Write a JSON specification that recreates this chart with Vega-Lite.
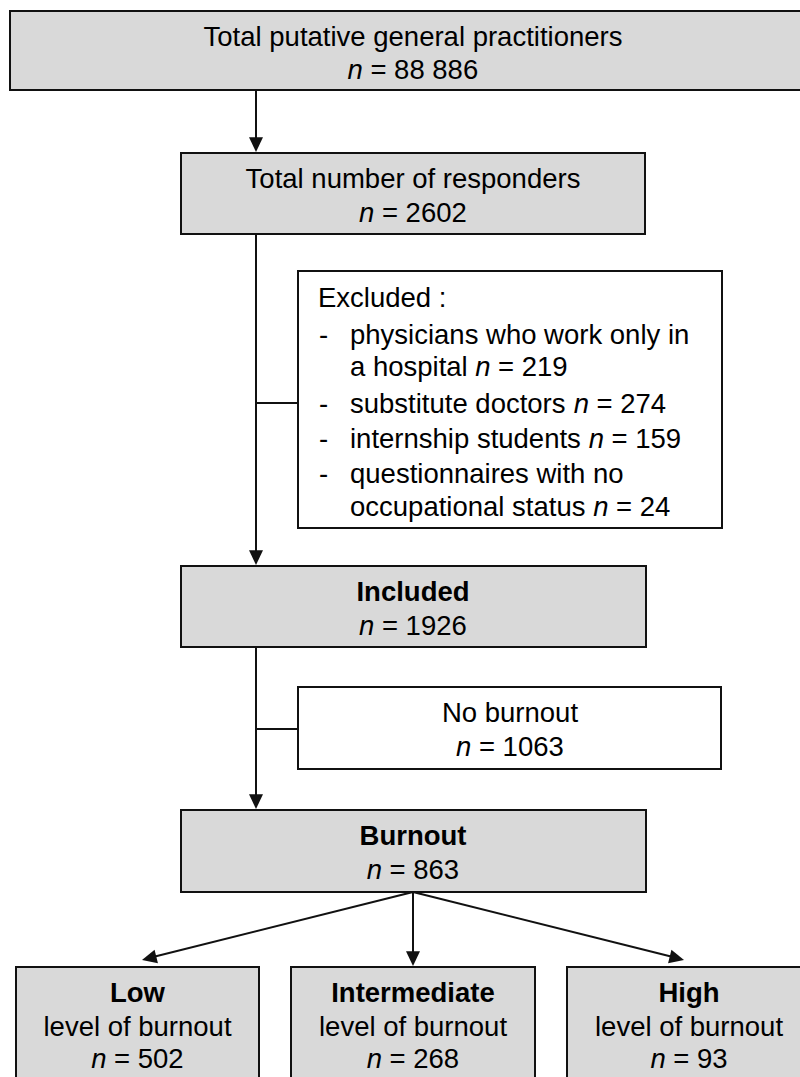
{
  "$schema": "https://vega.github.io/schema/vega-lite/v6.json",
  "width": 800,
  "height": 1077,
  "padding": 0,
  "autosize": {"type": "none"},
  "background": "white",
  "config": {"view": {"stroke": null}, "text": {"font": "Liberation Sans", "fontSize": 27.5, "color": "#000"}},
  "datasets": {
    "boxes": [
      {"box": "total", "kind": "main", "x": 10, "x2": 806, "y": 11, "y2": 90},
      {"box": "responders", "kind": "main", "x": 181, "x2": 645, "y": 153, "y2": 234},
      {"box": "excluded", "kind": "side", "x": 298, "x2": 722, "y": 271, "y2": 528},
      {"box": "included", "kind": "main", "x": 181, "x2": 646, "y": 566, "y2": 647},
      {"box": "noburnout", "kind": "side", "x": 298, "x2": 721, "y": 687, "y2": 769},
      {"box": "burnout", "kind": "main", "x": 181, "x2": 646, "y": 810, "y2": 892},
      {"box": "low", "kind": "main", "x": 16, "x2": 259, "y": 967, "y2": 1090},
      {"box": "intermediate", "kind": "main", "x": 291, "x2": 535, "y": 967, "y2": 1090},
      {"box": "high", "kind": "main", "x": 567, "x2": 810, "y": 967, "y2": 1090}
    ],
    "links": [
      {"x": 256, "y": 90, "x2": 256, "y2": 146},
      {"x": 256, "y": 234, "x2": 256, "y2": 558},
      {"x": 256, "y": 403, "x2": 298, "y2": 403},
      {"x": 256, "y": 647, "x2": 256, "y2": 802},
      {"x": 256, "y": 729, "x2": 298, "y2": 729},
      {"x": 413, "y": 892, "x2": 149, "y2": 958},
      {"x": 413, "y": 892, "x2": 413, "y2": 958},
      {"x": 413, "y": 892, "x2": 677, "y2": 958}
    ],
    "heads": [
      {"x": 256, "y": 152, "angle": 0},
      {"x": 256, "y": 565, "angle": 0},
      {"x": 256, "y": 809, "angle": 0},
      {"x": 142, "y": 960, "angle": 76},
      {"x": 413, "y": 966, "angle": 0},
      {"x": 684, "y": 960, "angle": -76}
    ],
    "labels": [
      {"role": "title", "x": 413, "y": 46, "text": "Total putative general practitioners"},
      {"role": "title", "x": 413, "y": 188, "text": "Total number of responders"},
      {"role": "title", "x": 510, "y": 722, "text": "No burnout"},
      {"role": "title", "x": 137.5, "y": 1036, "text": "level of burnout"},
      {"role": "title", "x": 413, "y": 1036, "text": "level of burnout"},
      {"role": "title", "x": 689, "y": 1036, "text": "level of burnout"},
      {"role": "head", "x": 413, "y": 601, "text": "Included"},
      {"role": "head", "x": 413, "y": 845, "text": "Burnout"},
      {"role": "head", "x": 137.5, "y": 1002, "text": "Low"},
      {"role": "head", "x": 413, "y": 1002, "text": "Intermediate"},
      {"role": "head", "x": 689, "y": 1002, "text": "High"},
      {"role": "list", "x": 318, "y": 307, "text": "Excluded :"},
      {"role": "list", "x": 319, "y": 344, "text": "-"},
      {"role": "list", "x": 319, "y": 413, "text": "-"},
      {"role": "list", "x": 319, "y": 448, "text": "-"},
      {"role": "list", "x": 319, "y": 483, "text": "-"},
      {"role": "list", "x": 350, "y": 344, "text": "physicians who work only in"},
      {"role": "list", "x": 350, "y": 376, "text": "a hospital"},
      {"role": "list", "x": 350, "y": 413, "text": "substitute doctors"},
      {"role": "list", "x": 350, "y": 448, "text": "internship students"},
      {"role": "list", "x": 350, "y": 483, "text": "questionnaires with no"},
      {"role": "list", "x": 350, "y": 516, "text": "occupational status"}
    ],
    "counts": [
      {"x": 362.9, "y": 79, "text": "= 88 886"},
      {"x": 374.4, "y": 222, "text": "= 2602"},
      {"x": 374.4, "y": 635, "text": "= 1926"},
      {"x": 471.4, "y": 756, "text": "= 1063"},
      {"x": 382, "y": 879, "text": "= 863"},
      {"x": 106.5, "y": 1068, "text": "= 502"},
      {"x": 382, "y": 1068, "text": "= 268"},
      {"x": 665.7, "y": 1068, "text": "= 93"},
      {"x": 490.5, "y": 376, "text": "= 219"},
      {"x": 589, "y": 413, "text": "= 274"},
      {"x": 604, "y": 448, "text": "= 159"},
      {"x": 608.5, "y": 516, "text": "= 24"}
    ]
  },
  "layer": [
    {
      "data": {"name": "boxes"},
      "mark": {"type": "rect", "stroke": "#111", "strokeWidth": 2},
      "encoding": {
        "x": {"field": "x", "type": "quantitative", "axis": null, "scale": {"domain": [0, 800], "nice": false, "zero": false}},
        "x2": {"field": "x2"},
        "y": {"field": "y", "type": "quantitative", "axis": null, "scale": {"domain": [0, 1077], "nice": false, "zero": false, "reverse": true}},
        "y2": {"field": "y2"},
        "fill": {"field": "kind", "type": "nominal", "legend": null, "scale": {"domain": ["main", "side"], "range": ["#d9d9d9", "#ffffff"]}}
      }
    },
    {
      "data": {"name": "links"},
      "mark": {"type": "rule", "color": "#111", "strokeWidth": 2},
      "encoding": {
        "x": {"field": "x", "type": "quantitative"},
        "x2": {"field": "x2"},
        "y": {"field": "y", "type": "quantitative"},
        "y2": {"field": "y2"}
      }
    },
    {
      "data": {"name": "heads"},
      "mark": {"type": "point", "shape": "M0,0L-1,-2.1L1,-2.1Z", "filled": true, "color": "#111", "opacity": 1, "size": 196},
      "encoding": {
        "x": {"field": "x", "type": "quantitative"},
        "y": {"field": "y", "type": "quantitative"},
        "angle": {"field": "angle", "type": "quantitative", "scale": null}
      }
    },
    {
      "data": {"name": "labels"},
      "transform": [{"filter": "datum.role === 'title'"}],
      "mark": {"type": "text", "align": "center", "baseline": "alphabetic"},
      "encoding": {
        "x": {"field": "x", "type": "quantitative"},
        "y": {"field": "y", "type": "quantitative"},
        "text": {"field": "text"}
      }
    },
    {
      "data": {"name": "labels"},
      "transform": [{"filter": "datum.role === 'head'"}],
      "mark": {"type": "text", "align": "center", "baseline": "alphabetic", "fontWeight": "bold"},
      "encoding": {
        "x": {"field": "x", "type": "quantitative"},
        "y": {"field": "y", "type": "quantitative"},
        "text": {"field": "text"}
      }
    },
    {
      "data": {"name": "labels"},
      "transform": [{"filter": "datum.role === 'list'"}],
      "mark": {"type": "text", "align": "left", "baseline": "alphabetic"},
      "encoding": {
        "x": {"field": "x", "type": "quantitative"},
        "y": {"field": "y", "type": "quantitative"},
        "text": {"field": "text"}
      }
    },
    {
      "data": {"name": "counts"},
      "mark": {"type": "text", "align": "right", "baseline": "alphabetic", "fontStyle": "italic", "text": "n"},
      "encoding": {
        "x": {"field": "x", "type": "quantitative"},
        "y": {"field": "y", "type": "quantitative"}
      }
    },
    {
      "data": {"name": "counts"},
      "mark": {"type": "text", "align": "left", "baseline": "alphabetic", "dx": 7.5},
      "encoding": {
        "x": {"field": "x", "type": "quantitative"},
        "y": {"field": "y", "type": "quantitative"},
        "text": {"field": "text"}
      }
    }
  ]
}
